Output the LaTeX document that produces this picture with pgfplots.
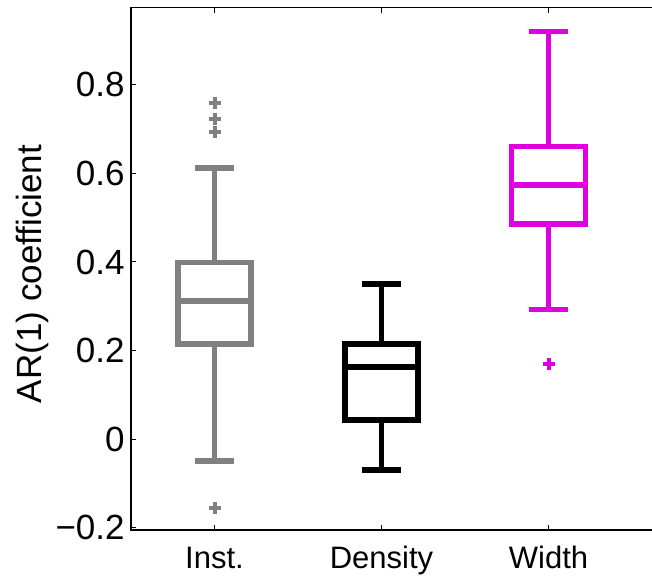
\documentclass[border=0pt]{standalone}
\usepackage{fontspec}
\setmainfont{Liberation Sans}
\usepackage{pgfplots}
\pgfplotsset{compat=1.18}
\usepgfplotslibrary{statistics}
\definecolor{instgray}{RGB}{128,128,128}
\definecolor{widthmag}{RGB}{222,0,222}
\begin{document}
\begin{tikzpicture}
\begin{axis}[
  scale only axis,
  width=263.86pt, height=261.25pt,
  xmin=0.5, xmax=3.66,
  ymin=-0.2056, ymax=0.975,
  xtick={1,2,3},
  xticklabels={Inst.,Density,Width},
  ytick={-0.2,0,0.2,0.4,0.6,0.8},
  yticklabels={−0.2,0,0.2,0.4,0.6,0.8},
  tick align=inside,
  major tick length=2.5pt,
  every tick/.style={black, line width=0.5pt},
  axis line style={line width=0.75pt},
  xticklabel style={font=\fontsize{15.5}{18}\selectfont, anchor=base, inner sep=0pt, yshift=-19pt},
  yticklabel style={font=\fontsize{17.5}{20}\selectfont, anchor=east, inner sep=0pt, xshift=-3pt},
  ylabel={AR(1) coefficient},
  ylabel style={font=\fontsize{17.5}{20}\selectfont, at={(axis description cs:-0.1687,0.49)}, anchor=base},
  boxplot/draw direction=y,
  boxplot/box extend=0.44,
  boxplot/whisker extend=0.23,
]
% Inst.
\addplot[draw=instgray, line width=2.8pt, mark=+, mark size=3pt,
  mark options={line width=2pt, instgray},
  boxplot prepared={draw position=1, lower whisker=-0.050, lower quartile=0.214,
    median=0.3125, upper quartile=0.399, upper whisker=0.612}]
  table[row sep=\\, y index=0] {y\\ 0.759\\ 0.723\\ 0.693\\ -0.155\\};
% Density
\addplot[draw=black, line width=2.8pt, mark=+,
  boxplot prepared={draw position=2, lower whisker=-0.070, lower quartile=0.043,
    median=0.163, upper quartile=0.214, upper whisker=0.350}]
  coordinates {};
% Width
\addplot[draw=widthmag, line width=2.6pt, mark=+, mark size=3pt,
  mark options={line width=2pt, widthmag},
  boxplot prepared={draw position=3, lower whisker=0.292, lower quartile=0.486,
    median=0.574, upper quartile=0.661, upper whisker=0.920}]
  table[row sep=\\, y index=0] {y\\ 0.170\\};
\end{axis}
\pgfresetboundingbox
\path[use as bounding box] ([shift={(-65.5pt,-24pt)}]current axis.south west)
  rectangle ([shift={(260.5pt,3.75pt)}]current axis.north west);
\end{tikzpicture}
\end{document}
